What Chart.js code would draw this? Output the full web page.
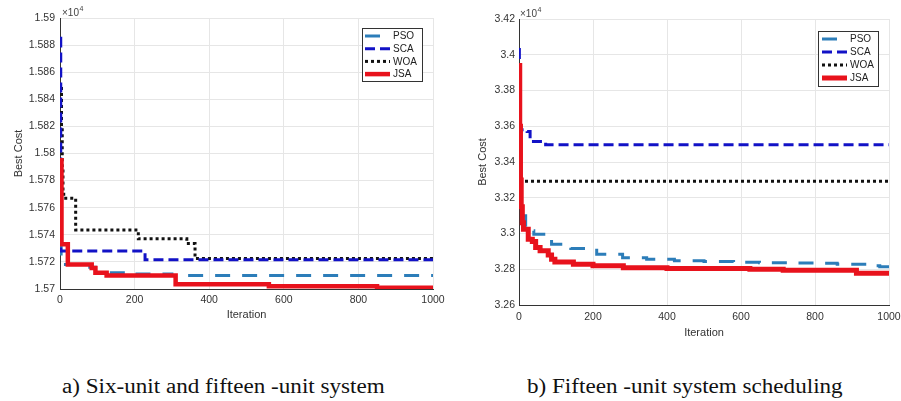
<!DOCTYPE html>
<html>
<head>
<meta charset="utf-8">
<script src="https://cdn.jsdelivr.net/npm/chart.js@4/dist/chart.umd.min.js"></script>
<style>
  html, body { margin: 0; padding: 0; background: #fff; }
  body { width: 901px; height: 401px; position: relative; overflow: hidden; }
  canvas { position: absolute; top: 0; }
  #cA { left: 0; }
  #cB { left: 450px; }
  .cap { position: absolute; font-family: "Liberation Serif", "Times New Roman", serif; font-size: 20px; color: #111; white-space: nowrap; line-height: 1; transform: scaleX(1.155); transform-origin: left top; }
  #capA { left: 62px; top: 376px; }
  #capB { left: 527px; top: 376px; }
</style>
</head>
<body>
<canvas id="cA" width="450" height="330"></canvas>
<canvas id="cB" width="451" height="345"></canvas>
<div class="cap" id="capA">a) Six-unit and fifteen -unit system</div>
<div class="cap" id="capB">b) Fifteen -unit system scheduling</div>
<script>
// ---------- DATA ----------
const seriesNames = ['PSO', 'SCA', 'WOA', 'JSA'];
const xTickLabels = ['0', '200', '400', '600', '800', '1000'];

// Chart a) : iteration / best cost
const psoA = [[0,15735],[3,15718],[75,15716],[95,15712],[200,15711],[300,15710],[1000,15710]];
const scaA = [[0,15885],[2,15728],[228,15721.5],[1000,15721.5]];
const woaA = [[0,15848],[4,15820],[6,15790],[8,15770],[10,15767],[42,15743.5],[210,15737],[340,15733.5],[362,15722.5],[1000,15722.5]];
const jsaA = [[0,15795],[4,15733],[21,15718],[85,15715.5],[95,15712],[125,15710],[310,15703.5],[560,15702],[850,15701],[1000,15701]];
const yTickLabelsA = ['1.57','1.572','1.574','1.576','1.578','1.58','1.582','1.584','1.586','1.588','1.59'];

// Chart b)
const psoB = [[0,33235],[3,33100],[18,33015],[40,32996],[88,32940],[140,32916],[210,32884],[280,32865],[345,32856],[420,32847],[500,32843],[580,32839],[650,32837],[730,32835],[800,32833],[860,32828],[940,32819],[975,32814],[1000,32814]];
const scaB = [[0,34030],[1,33960],[2,33580],[22,33570],[30,33515],[72,33496],[1000,33496]];
const woaB = [[0,33293],[1000,33293]];
const jsaB = [[0,33940],[2,33600],[4,33300],[6,33150],[9,33060],[12,33024],[25,32968],[36,32955],[45,32921],[57,32903],[79,32880],[88,32856],[97,32841],[147,32828],[200,32819],[282,32809],[400,32804],[624,32800],[714,32794],[912,32778],[1000,32778]];
const yTickLabelsB = ['3.26','3.28','3.3','3.32','3.34','3.36','3.38','3.4','3.42'];

// ---------- STYLE ----------
const FONT = '"Liberation Sans", Arial, sans-serif';
const styles = {
  PSO: { color: '#2C7DB9', width: 3, dash: [15, 12] },
  SCA: { color: '#1212C6', width: 3, dash: [10, 5] },
  WOA: { color: '#111111', width: 3, dash: [3, 3] },
  JSA: { color: '#E8121C', width: 4.5, dash: [] }
};
const drawOrder = { PSO: 3, SCA: 1, WOA: 2, JSA: 0 };

function toPts(arr) { return arr.map(p => ({ x: p[0], y: p[1] })); }

function makeDatasets(list, jsaWidth) {
  return list.map((arr, i) => {
    const n = seriesNames[i];
    const s = styles[n];
    return {
      label: n,
      data: toPts(arr),
      borderColor: s.color,
      borderWidth: n === 'JSA' ? jsaWidth : s.width,
      borderDash: s.dash,
      borderCapStyle: 'butt',
      stepped: true,
      pointRadius: 0,
      fill: false,
      order: drawOrder[n]
    };
  });
}

const legendPlugin = {
  id: 'mlLegend',
  afterDraw(chart, args, o) {
    const ctx = chart.ctx;
    ctx.save();
    ctx.fillStyle = '#fff';
    ctx.fillRect(o.x, o.y, o.w, o.h);
    ctx.strokeStyle = '#333';
    ctx.lineWidth = 1;
    ctx.strokeRect(o.x + 0.5, o.y + 0.5, o.w, o.h);
    ctx.font = '10px ' + FONT;
    ctx.textBaseline = 'middle';
    ctx.textAlign = 'left';
    chart.data.datasets.forEach((ds, i) => {
      const y = o.y + o.first + i * o.step;
      ctx.beginPath();
      ctx.setLineDash(ds.borderDash || []);
      ctx.lineCap = 'butt';
      ctx.strokeStyle = ds.borderColor;
      ctx.lineWidth = ds.borderWidth;
      ctx.moveTo(o.x + o.lx, y);
      ctx.lineTo(o.x + o.lx + o.len, y);
      ctx.stroke();
      ctx.setLineDash([]);
      ctx.fillStyle = '#222';
      ctx.fillText(ds.label, o.x + o.tx, y + 0.5);
    });
    ctx.restore();
  }
};

const expPlugin = {
  id: 'expLabel',
  afterDraw(chart, args, o) {
    const ctx = chart.ctx;
    ctx.save();
    ctx.fillStyle = '#444';
    ctx.textBaseline = 'alphabetic';
    ctx.textAlign = 'left';
    ctx.font = '10px ' + FONT;
    ctx.fillText('\u00d710', o.x, o.y);
    const w = ctx.measureText('\u00d710').width;
    ctx.font = '7px ' + FONT;
    ctx.fillText('4', o.x + w + 0.5, o.y - 5);
    ctx.restore();
  }
};

function makeChart(id, datasets, yMin, yMax, yStep, yLabels, cfg) {
  return new Chart(document.getElementById(id), {
    type: 'line',
    data: { datasets },
    plugins: [legendPlugin, expPlugin],
    options: {
      responsive: false,
      animation: false,
      devicePixelRatio: 1,
      layout: { padding: { left: 0, top: cfg.top, right: cfg.right, bottom: 0 } },
      plugins: {
        legend: { display: false },
        tooltip: { enabled: false },
        mlLegend: cfg.legend,
        expLabel: cfg.exp
      },
      scales: {
        x: {
          type: 'linear',
          min: 0, max: 1000,
          grid: { color: '#e6e6e6', drawTicks: false },
          border: { color: '#333', width: 1 },
          ticks: {
            stepSize: 200,
            padding: cfg.xTickPad,
            color: '#333',
            font: { family: FONT, size: 10.5 },
            maxRotation: 0,
            callback: (v, i) => xTickLabels[i]
          },
          title: { display: true, text: 'Iteration', color: '#333', font: { family: FONT, size: 11 }, padding: { top: 0, bottom: cfg.xTitlePad } },
          afterFit: s => { s.height = cfg.xH; s.paddingLeft = 0; s.paddingRight = 0; }
        },
        y: {
          min: yMin, max: yMax,
          grid: { color: '#e6e6e6', drawTicks: false },
          border: { color: '#333', width: 1 },
          ticks: {
            stepSize: yStep,
            padding: cfg.yTickPad,
            color: '#333',
            font: { family: FONT, size: 10.5 },
            callback: (v, i) => yLabels[i]
          },
          title: { display: true, text: 'Best Cost', color: '#333', font: { family: FONT, size: 11 }, padding: { top: cfg.yTitlePad, bottom: 0 } },
          afterFit: s => { s.width = cfg.yW; s.paddingTop = 0; s.paddingBottom = 0; }
        }
      }
    }
  });
}

makeChart('cA', makeDatasets([psoA, scaA, woaA, jsaA], 4.5), 15700, 15900, 20, yTickLabelsA, {
  top: 18, right: 17, xH: 41, yW: 60, xTickPad: 5, yTickPad: 5, xTitlePad: 8.4, yTitlePad: 12,
  legend: { x: 362, y: 28, w: 60, h: 53, first: 8, step: 12.7, lx: 3, len: 25, tx: 31 },
  exp: { x: 62, y: 16 }
});

makeChart('cB', makeDatasets([psoB, scaB, woaB, jsaB], 5), 32600, 34200, 200, yTickLabelsB, {
  top: 19, right: 12, xH: 40, yW: 69, xTickPad: 6, yTickPad: 4, xTitlePad: 5.4, yTitlePad: 26,
  legend: { x: 368, y: 31, w: 60, h: 55, first: 8, step: 13, lx: 4, len: 25, tx: 32 },
  exp: { x: 70, y: 17 }
});
</script>
</body>
</html>
